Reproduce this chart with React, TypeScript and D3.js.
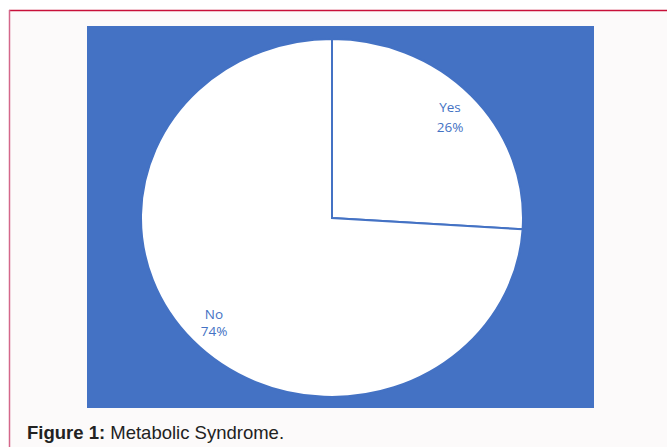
import React from "react";
import * as d3 from "d3";

const categories = ["Yes", "No"];
const values = [26, 74];
const labels = ["26%", "74%"];

const W = 667;
const H = 447;

export default function App() {
  const cx = 332;
  const cy = 218;
  const rx = 191;
  const ry = 179;
  const pie = d3.pie<number>().sort(null).value((d) => d)(values);
  const arc = d3.arc<d3.PieArcDatum<number>>().innerRadius(0).outerRadius(rx);
  const blue = "#4472c4";
  const labelPos = [
    { x: 450, y1: 112, y2: 132 },
    { x: 214, y1: 319, y2: 336 },
  ];
  return (
    <svg
      width={W}
      height={H}
      style={{ position: "fixed", left: 0, top: 0 }}
      xmlns="http://www.w3.org/2000/svg"
    >
      <rect x={0} y={0} width={W} height={H} fill="#ffffff" />
      <rect x={10} y={10.5} width={W} height={H} fill="#fcfafa" />
      <line x1={9} y1={10.5} x2={W} y2={10.5} stroke="#c8103a" strokeWidth={1.5} />
      <line x1={9.5} y1={10} x2={9.5} y2={H} stroke="#d4678a" strokeWidth={1.5} />
      <rect x={87} y={26} width={507} height={382} fill={blue} />
      <g transform={`translate(${cx},${cy}) scale(1,${ry / rx})`}>
        {pie.map((p, i) => (
          <path
            key={categories[i]}
            d={arc(p) || ""}
            fill="#ffffff"
            stroke={blue}
            strokeWidth={2}
            vectorEffect="non-scaling-stroke"
            strokeLinejoin="miter"
          />
        ))}
      </g>
      {pie.map((p, i) => (
        <text
          key={"l" + i}
          x={labelPos[i].x}
          textAnchor="middle"
          fill={blue}
          fontFamily="'Open Sans', 'Noto Sans', sans-serif"
          fontSize={13.5}
        >
          <tspan x={labelPos[i].x} y={labelPos[i].y1}>{categories[i]}</tspan>
          <tspan x={labelPos[i].x} y={labelPos[i].y2}>{labels[i]}</tspan>
        </text>
      ))}
      <text
        x={27}
        y={439}
        fontFamily="'Liberation Sans', Arial, sans-serif"
        fontSize={18.5}
        fill="#222"
      >
        <tspan fontWeight="bold">Figure 1:</tspan>
        <tspan> Metabolic Syndrome.</tspan>
      </text>
    </svg>
  );
}
